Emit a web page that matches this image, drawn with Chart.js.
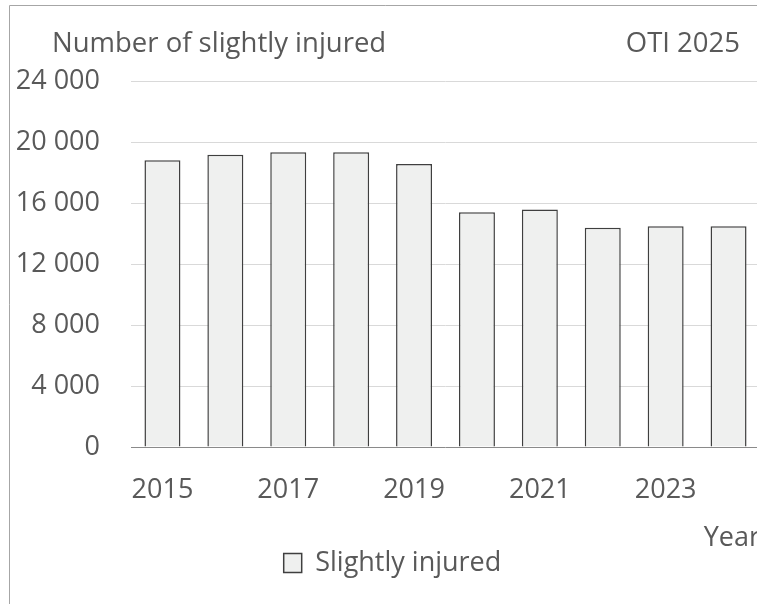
<!DOCTYPE html>
<html>
<head>
<meta charset="utf-8">
<script src="https://cdn.jsdelivr.net/npm/chart.js@4/dist/chart.umd.min.js"></script>
<style>
  html, body { margin: 0; padding: 0; background: #ffffff; overflow: hidden; width: 757px; height: 604px; }
  #c { position: absolute; left: 0; top: 0; }
</style>
</head>
<body>
<canvas id="c" width="762" height="604"></canvas>
<script>
const years = ['2015','2016','2017','2018','2019','2020','2021','2022','2023','2024'];
const slightlyInjured = [18800, 19170, 19330, 19330, 18560, 15400, 15570, 14370, 14470, 14480];
const seriesLabel = 'Slightly injured';
const yAxisTitle = 'Number of slightly injured';
const sourceNote = 'OTI 2025';
const xAxisTitle = 'Year';
const yTickValues = [0, 4000, 8000, 12000, 16000, 20000, 24000];

const FONT = '"Open Sans", "Noto Sans", sans-serif';
const TEXT = '#595959';

function fmt(v) {
  return String(v).replace(/\B(?=(\d{3})+(?!\d))/g, ' ');
}

const framePlugin = {
  id: 'frame',
  afterLayout(chart) {
    if (chart.legend) {
      chart.legend.left += 12.5;
      chart.legend.right += 12.5;
    }
  },
  beforeDraw(chart) {
    const ctx = chart.ctx;
    ctx.save();
    ctx.strokeStyle = '#a6a6a6';
    ctx.lineWidth = 1;
    ctx.beginPath();
    ctx.moveTo(9.5, 604);
    ctx.lineTo(9.5, 5.5);
    ctx.lineTo(762, 5.5);
    ctx.stroke();
    ctx.restore();
  },
  afterDraw(chart) {
    const ctx = chart.ctx;
    ctx.save();
    ctx.font = '27.5px ' + FONT;
    ctx.fillStyle = TEXT;
    ctx.textBaseline = 'middle';
    ctx.textAlign = 'left';
    ctx.fillText(yAxisTitle, 52, 44);
    ctx.textAlign = 'right';
    ctx.fillText(sourceNote, 740, 44);
    ctx.restore();
  }
};

new Chart(document.getElementById('c'), {
  type: 'bar',
  data: {
    labels: years,
    datasets: [{
      label: seriesLabel,
      data: slightlyInjured,
      backgroundColor: '#eff0ef',
      borderColor: '#3f3f3f',
      borderWidth: 1.5,
      barPercentage: 0.572,
      categoryPercentage: 1.0
    }]
  },
  options: {
    responsive: false,
    animation: false,
    devicePixelRatio: 1,
    layout: { padding: { left: 0, right: 2, top: 81, bottom: 17.5 } },
    plugins: {
      title: { display: false },
      tooltip: { enabled: false },
      legend: {
        display: true,
        position: 'bottom',
        labels: {
          boxWidth: 18,
          boxHeight: 19,
          padding: 0,
          color: TEXT,
          font: { family: FONT, size: 27 }
        }
      }
    },
    scales: {
      x: {
        grid: { display: false, drawTicks: false },
        border: { display: false },
        ticks: {
          autoSkip: false,
          maxRotation: 0,
          padding: 27,
          color: TEXT,
          font: { family: FONT, size: 27 },
          callback: function(value, index) { return index % 2 === 0 ? this.getLabelForValue(value) : ''; }
        },
        title: {
          display: true,
          text: xAxisTitle,
          align: 'end',
          color: TEXT,
          padding: { top: 0, bottom: -2 },
          font: { family: FONT, size: 27, lineHeight: 1 }
        },
        afterFit(scale) { scale.height = 102.5; }
      },
      y: {
        min: 0,
        max: 24000,
        afterBuildTicks(scale) { scale.ticks = yTickValues.map(v => ({ value: v })); },
        grid: {
          drawTicks: false,
          lineWidth: 1,
          color: (c) => (c.tick && c.tick.value === 0) ? '#8a8a8a' : '#d9d9d9'
        },
        border: { display: false },
        ticks: {
          padding: 31,
          color: TEXT,
          font: { family: FONT, size: 27 },
          callback: (v) => fmt(v)
        },
        afterFit(scale) { scale.width = 131; }
      }
    }
  },
  plugins: [framePlugin]
});
</script>
</body>
</html>
